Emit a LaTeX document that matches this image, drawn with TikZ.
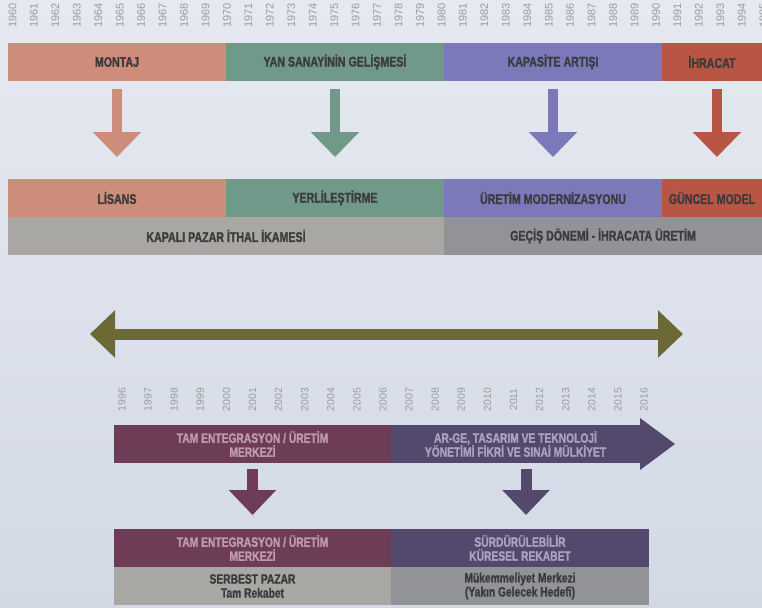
\documentclass[tikz,border=0pt]{standalone}
\usepackage{fontspec}
\newfontfamily\otmfont[FakeStretch=0.76,BoldFeatures={FakeBold=1.3}]{Liberation Sans}
\newfontfamily\otmyilfont{Liberation Sans}
\usepackage{xcolor}
\definecolor{otmbgust}{HTML}{E6E9F1}
\definecolor{otmbgalt}{HTML}{D2D9E5}
\definecolor{otmsomon}{HTML}{CD8D7A}
\definecolor{otmyesil}{HTML}{71998A}
\definecolor{otmmor}{HTML}{7C79BA}
\definecolor{otmkirmizi}{HTML}{B85545}
\definecolor{otmgriA}{HTML}{A8A7A4}
\definecolor{otmgriB}{HTML}{929397}
\definecolor{otmzeytin}{HTML}{6B6A37}
\definecolor{otmbordo}{HTML}{6E3C56}
\definecolor{otmkoyu}{HTML}{52496C}
\definecolor{otmyazi}{HTML}{3B3B3D}
\definecolor{otmyil}{HTML}{9B9B9F}
\definecolor{otmacikA}{HTML}{BE9BB0}
\definecolor{otmacikB}{HTML}{AAA3C0}
\usepackage{tikz}
\usetikzlibrary{arrows.meta,positioning}
\tikzset{
  otmband/.style={minimum height=38pt,inner sep=0pt,outer sep=0pt,align=center,text=otmyazi,font=\otmfont\bfseries\fontsize{14}{15}\selectfont},
  otmiki/.style={otmband,font=\otmfont\bfseries\fontsize{13.5}{14}\selectfont},
  otmdown/.style={line width=10pt,shorten <=8pt,shorten >=22pt,-{Triangle[width=47pt,length=25pt]}},
  otmdownk/.style={line width=11pt,shorten <=6pt,shorten >=14pt,-{Triangle[width=46pt,length=25pt]}},
  otmspan/.style={line width=11pt,draw=otmzeytin,{Triangle[width=46pt,length=25pt]}-{Triangle[width=46pt,length=25pt]}},
  otmyilno/.style={rotate=90,inner sep=0pt,text=otmyil,font=\otmyilfont\fontsize{11}{11}\selectfont},
}
\begin{document}
\begin{tikzpicture}[x=1pt,y=-1pt]
 % background
\path[use as bounding box,top color=otmbgust,bottom color=otmbgalt] (0,0) rectangle (762,607);
 % years 1960-1995
\foreach \yil [count=\i from 0] in {1960,...,1995}
  \node[otmyilno] (yil\yil) at (12.5+21.45*\i,15.5) {\yil};
 % first period
\node[otmband,fill=otmsomon,minimum width=218pt] (montaj) at (117,62) {MONTAJ};
\node[otmband,fill=otmyesil,minimum width=218pt,right=0pt of montaj] (yansan) {YAN SANAYİNİN GELİŞMESİ};
\node[otmband,fill=otmmor,minimum width=218pt,right=0pt of yansan] (kapasite) {KAPASİTE ARTIŞI};
\node[otmband,fill=otmkirmizi,minimum width=100pt,right=0pt of kapasite] (ihracat) {İHRACAT};
\node[otmband,fill=otmsomon,minimum width=218pt] (lisans) at (117,198) {LİSANS};
\node[otmband,fill=otmyesil,minimum width=218pt,right=0pt of lisans] (yerli) {YERLİLEŞTİRME};
\node[otmband,fill=otmmor,minimum width=218pt,right=0pt of yerli] (modern) {ÜRETİM MODERNİZASYONU};
\node[otmband,fill=otmkirmizi,minimum width=100pt,right=0pt of modern] (guncel) {GÜNCEL MODEL};
\node[otmband,fill=otmgriA,minimum width=436pt,anchor=north west] (kapali) at (lisans.south west) {KAPALI PAZAR İTHAL İKAMESİ};
\node[otmband,fill=otmgriB,minimum width=318pt,right=0pt of kapali] (gecis) {GEÇİŞ DÖNEMİ - İHRACATA ÜRETİM};
\draw[otmdown,draw=otmsomon](montaj)--(lisans);
\draw[otmdown,draw=otmyesil](yansan)--(yerli);
\draw[otmdown,draw=otmmor](kapasite)--(modern);
\draw[otmdown,draw=otmkirmizi]([xshift=5pt]ihracat.south)--([xshift=5pt]guncel.north);
 % span
\coordinate (solu) at (90,334);
\coordinate (sagu) at (683,334);
\draw[otmspan](solu)--(sagu);
 % years 1996-2016
\foreach \yil [count=\i from 0] in {1996,...,2016}
  \node[otmyilno,font=\otmyilfont\fontsize{10.5}{10.5}\selectfont] (yil\yil) at (122+26.1*\i,399.5) {\yil};
 % second period
\node[otmiki,fill=otmbordo,text=otmacikA,minimum width=277pt] (tam) at (252.5,444) {TAM ENTEGRASYON / ÜRETİM\\MERKEZİ};
\node[otmiki,fill=otmkoyu,text=otmacikB,minimum width=249pt,right=0pt of tam] (arge) {AR-GE, TASARIM VE TEKNOLOJİ\\YÖNETİMİ FİKRİ VE SINAİ MÜLKİYET};
\fill[otmkoyu]([yshift=26pt]arge.east)--([xshift=35pt]arge.east)--([yshift=-26pt]arge.east)--cycle;
\node[otmiki,fill=otmbordo,text=otmacikA,minimum width=277pt] (tamb) at (252.5,548) {TAM ENTEGRASYON / ÜRETİM\\MERKEZİ};
\node[otmiki,fill=otmkoyu,text=otmacikB,minimum width=258pt,right=0pt of tamb] (surd) {SÜRDÜRÜLEBİLİR\\KÜRESEL REKABET};
\node[otmiki,fill=otmgriA,minimum width=277pt,anchor=north west] (serbest) at (tamb.south west) {SERBEST PAZAR\\Tam Rekabet};
\node[otmiki,fill=otmgriB,minimum width=258pt,right=0pt of serbest] (mukem) {Mükemmeliyet Merkezi\\(Yakın Gelecek Hedefi)};
\draw[otmdownk,draw=otmbordo](tam)--(tamb);
\draw[otmdownk,draw=otmkoyu]([xshift=10.5pt]arge.south)--([xshift=6pt]surd.north);
\end{tikzpicture}
\end{document}
